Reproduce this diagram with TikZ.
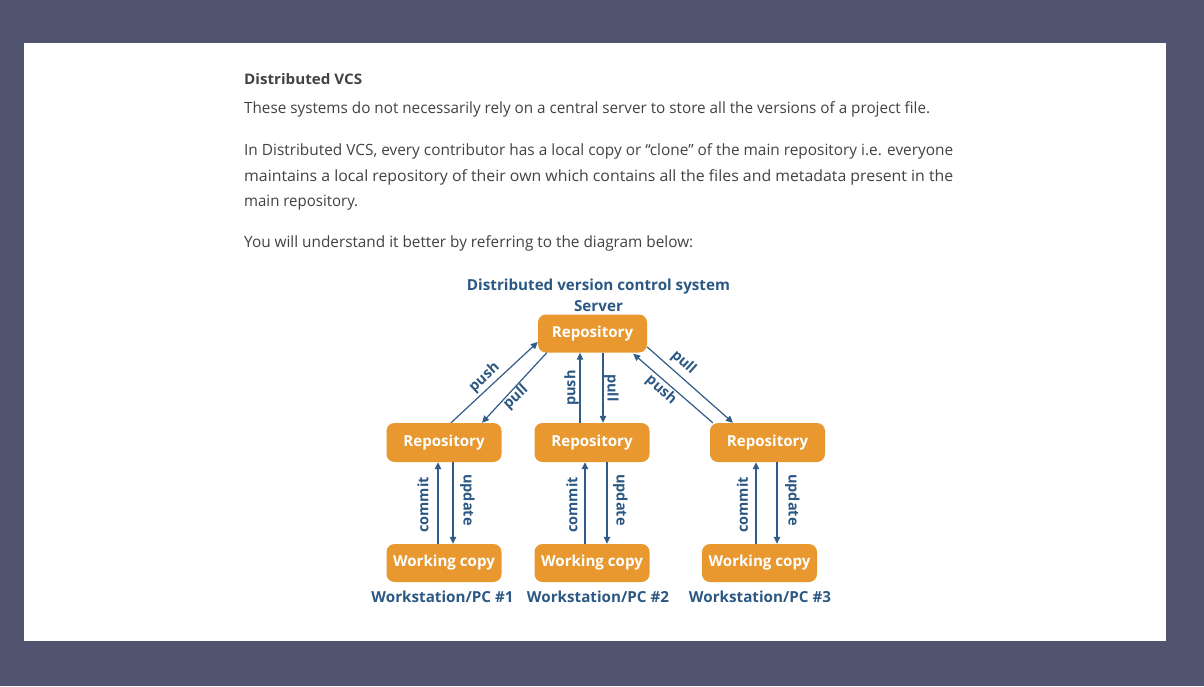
\documentclass[tikz,border=0pt]{standalone}
\usepackage{fontspec}
\usepackage{graphicx}
\setmainfont{Open Sans}
\usetikzlibrary{arrows.meta,calc}
\definecolor{bgc}{RGB}{80,84,111}
\definecolor{txt}{RGB}{66,66,66}
\definecolor{orng}{RGB}{232,152,46}
\definecolor{tblue}{RGB}{44,88,132}
\definecolor{ablue}{RGB}{50,92,136}
\newcommand{\fw}[2]{\resizebox{#1pt}{!}{#2}}
\newcommand{\fx}[2]{\resizebox{#1pt}{\height}{#2}}
\tikzset{
  body/.style={inner sep=0pt, anchor=base west, text=txt, font=\fontsize{15.5}{18}\selectfont},
  dtitle/.style={inner sep=0pt, anchor=base, text=tblue, font=\bfseries\fontsize{15.2}{17}\selectfont},
  box/.style={rectangle, rounded corners=8pt, fill=orng, text=white, inner sep=0pt,
    minimum width=115pt, minimum height=39pt, font=\bfseries\fontsize{15.1}{17}\selectfont},
  arr/.style={draw=ablue, line width=1.2pt, -{Triangle[length=7pt,width=6.5pt]}},
  lab/.style={inner sep=0pt, text=tblue, font=\bfseries\fontsize{14.5}{16}\selectfont}
}
\begin{document}
\begin{tikzpicture}[x=1pt,y=-1pt]
\useasboundingbox (0,0) rectangle (1204,686);
\fill[bgc] (0,0) rectangle (1204,686);
\fill[white] (24,43) rectangle (1166,641);

% body text
\node[body] (h1) at (244,84) {\fx{118}{\bfseries\fontsize{14.5}{16}\selectfont Distributed VCS}};
\node[body] (p1) at (244,113.5) {\fx{686}{These systems do not necessarily rely on a central server to store all the versions of a project file.}};
\node[body] (p2) at (244,155.5) {\fx{709}{In Distributed VCS, every contributor has a local copy or “clone” of the main repository i.e. everyone}};
\node[body] (p3) at (244,181.5) {\fx{709}{maintains a local repository of their own which contains all the files and metadata present in the}};
\node[body] (p4) at (244,206.5) {\fx{114}{main repository.}};
\node[body] (p5) at (244,247.5) {\fx{449}{You will understand it better by referring to the diagram below:}};

% diagram titles
\node[dtitle] (title) at (598.5,290) {\fw{263}{Distributed version control system}};
\node[dtitle] (server) at (598.5,311) {Server};

% boxes
\node[box, minimum width=109pt, minimum height=38pt] (T) at (592.5,333.5) {Repository};
\node[box] (R1) at (444,442.5) {Repository};
\node[box] (R2) at (592,442.5) {Repository};
\node[box] (R3) at (767.5,442.5) {Repository};
\node[box, minimum height=38pt] (W1) at (444,563) {Working copy};
\node[box, minimum height=38pt] (W2) at (592,563) {Working copy};
\node[box, minimum height=38pt] (W3) at (759.5,563) {Working copy};

% workstation labels
\node[dtitle] (L1) at (442.5,602) {Workstation/PC \#1};
\node[dtitle] (L2) at (598,602) {Workstation/PC \#2};
\node[dtitle] (L3) at (760,602) {Workstation/PC \#3};

% server <-> repositories
\draw[arr] ($(R1.north)+(7,0)$) -- ($(T.west)+(0,8.5)$);
\draw[arr] ($(T.south west)+(9,0)$) -- ($(R1.north)+(38,0)$);
\draw[arr] ($(R2.north)+(-12,0)$) coordinate (m1) -- (m1 |- T.south);
\draw[arr] ($(T.south)+(10.5,0)$) coordinate (m2) -- (m2 |- R2.north);
\draw[arr] ($(T.east)+(0,13.5)$) -- ($(R3.north)+(-34.5,0)$);
\draw[arr] ($(R3.north west)+(3,0)$) -- ($(T.south east)+(-14,1)$);

\node[lab, rotate=43] (lpush) at (484.5,377.5) {push};
\node[lab, rotate=43] (lpull) at (516,397.5) {pull};
\node[lab, rotate=90] (mpush) at (571.5,388) {push};
\node[lab, rotate=-90] (mpull) at (611.5,388) {pull};
\node[lab, rotate=-42] (rpull) at (683.5,362.5) {pull};
\node[lab, rotate=-42] (rpush) at (661,390) {push};

% working copy <-> local repositories
\draw[arr] ($(W1.north)+(-6,0)$) coordinate (a1) -- (a1 |- R1.south);
\draw[arr] ($(R1.south)+(9,0)$) coordinate (b1) -- (b1 |- W1.north);
\draw[arr] ($(W2.north)+(-7,0)$) coordinate (a2) -- (a2 |- R2.south);
\draw[arr] ($(R2.south)+(15,0)$) coordinate (b2) -- (b2 |- W2.north);
\draw[arr] ($(W3.north)+(-3.5,0)$) coordinate (a3) -- (a3 |- R3.south);
\draw[arr] ($(R3.south)+(9.5,0)$) coordinate (b3) -- (b3 |- W3.north);

\node[lab, rotate=90] (c1) at (423,505) {commit};
\node[lab, rotate=-90] (u1) at (467.5,500) {update};
\node[lab, rotate=90] (c2) at (572,505) {commit};
\node[lab, rotate=-90] (u2) at (620.5,500) {update};
\node[lab, rotate=90] (c3) at (742.5,505) {commit};
\node[lab, rotate=-90] (u3) at (792.5,500) {update};
\end{tikzpicture}
\end{document}
